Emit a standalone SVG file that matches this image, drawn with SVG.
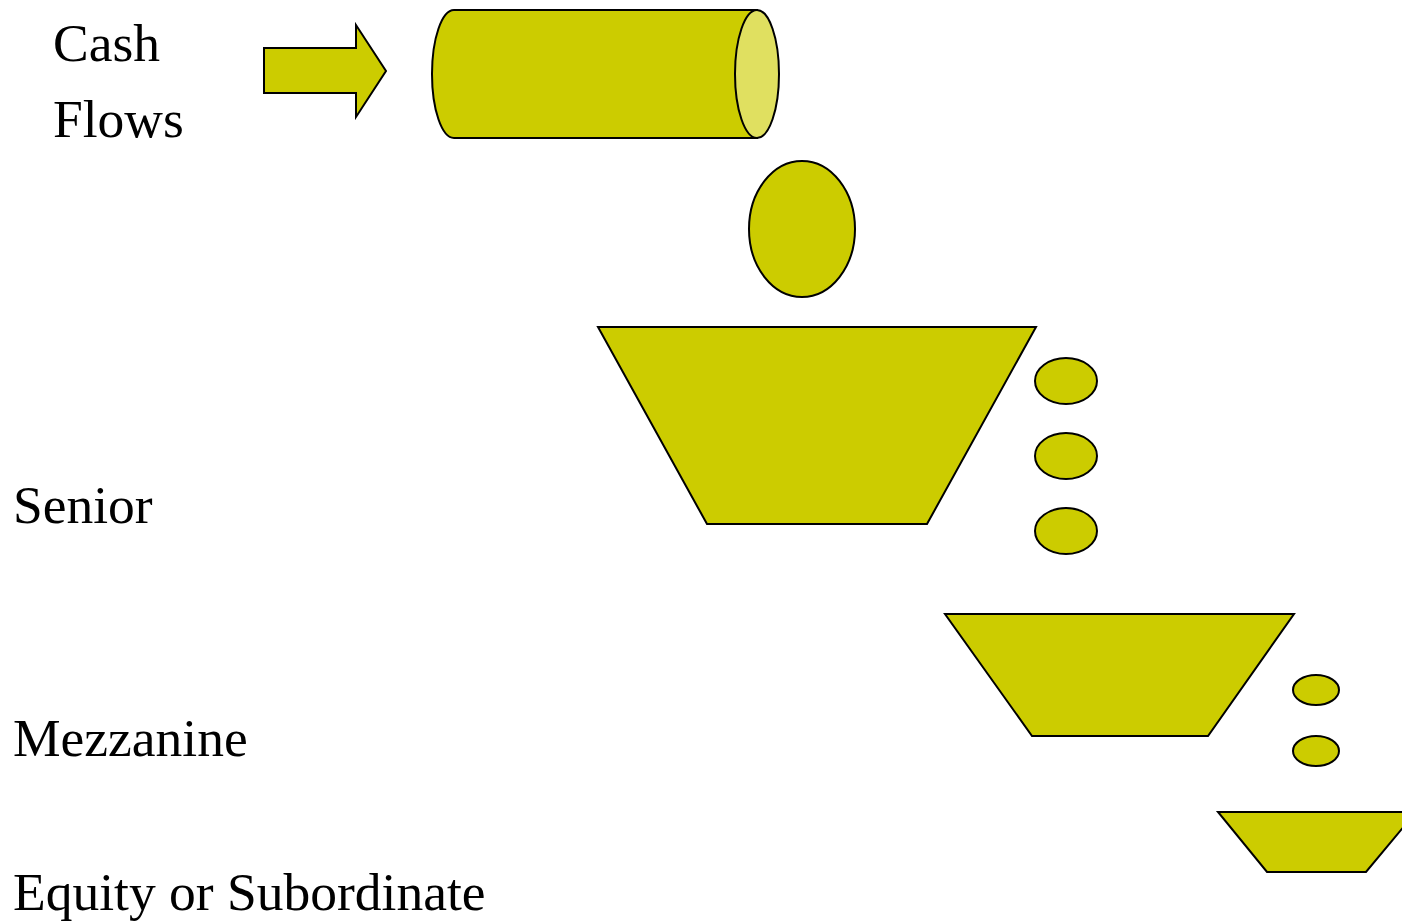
<svg xmlns="http://www.w3.org/2000/svg" width="1402" height="921" viewBox="0 0 1402 921">
<style>
.s{fill:#CCCC00;stroke:#000;stroke-width:2}
.l{fill:#E0E060;stroke:#000;stroke-width:2}
.t{font-family:"Liberation Serif","Times New Roman",serif;font-size:53.5px;fill:#000}
</style>
<rect width="1402" height="921" fill="#fff"/>
<g id="labels">
<text class="t" x="53" y="61">Cash</text>
<text class="t" x="53" y="137">Flows</text>
<text class="t" x="13" y="523">Senior</text>
<text class="t" x="13" y="756">Mezzanine</text>
<text class="t" x="13" y="910">Equity or Subordinate</text>
</g>
<g id="connectors">
<path class="s" d="M264,48 H356 V25 L386,71 L356,117 V93 H264 Z"/>
</g>
<g id="cylinder">
<path class="s" d="M454,10 H757 V138 H454 A22,64 0 0 1 454,10 Z"/>
<ellipse class="l" cx="757" cy="74" rx="22" ry="64"/>
</g>
<g id="drop">
<ellipse class="s" cx="802" cy="229" rx="53" ry="68"/>
</g>
<g id="senior">
<path class="s" d="M598,327 H1036 L927,524 H707 Z"/>
</g>
<g id="senior-drops">
<ellipse class="s" cx="1066" cy="381" rx="31" ry="23"/>
<ellipse class="s" cx="1066" cy="456" rx="31" ry="23"/>
<ellipse class="s" cx="1066" cy="531" rx="31" ry="23"/>
</g>
<g id="mezzanine">
<path class="s" d="M945,614 H1294 L1208,736 H1032 Z"/>
</g>
<g id="mezzanine-drops">
<ellipse class="s" cx="1316" cy="690" rx="23" ry="15"/>
<ellipse class="s" cx="1316" cy="751" rx="23" ry="15"/>
</g>
<g id="equity">
<path class="s" d="M1218,812 H1416 L1366,872 H1267 Z"/>
</g>
</svg>
